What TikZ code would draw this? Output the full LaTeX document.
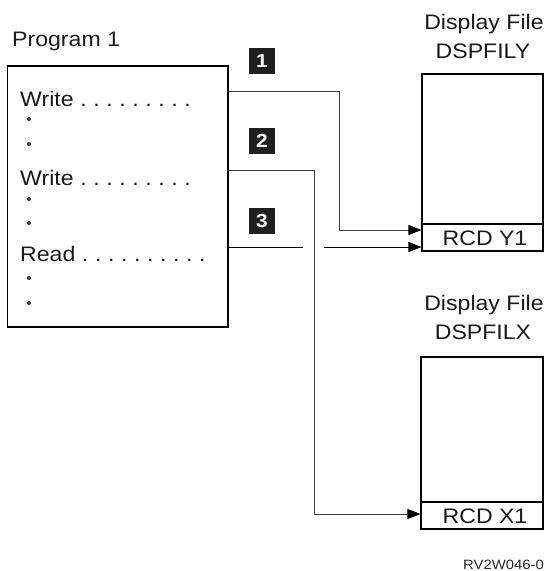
\documentclass[tikz,border=0pt]{standalone}
\usepackage{fontspec}
\setmainfont{Liberation Sans}[FakeStretch=1.1]
\usetikzlibrary{arrows.meta}
\newcommand\leadsp{\frenchspacing\spaceskip=6.6pt\relax\xspaceskip=6.6pt\relax}
\begin{document}
\begin{tikzpicture}[x=1pt,y=-1pt,
  txt/.style={inner sep=0pt,font=\fontsize{21}{24}\selectfont,text=black!90},
  small/.style={inner sep=0pt,font=\fontsize{13.5}{16}\selectfont,text=black!85},
  box/.style={draw=black,line width=1.1pt,inner sep=0pt},
  badge/.style={fill=black!88,text=white,inner sep=0pt,minimum size=26pt,font=\fontsize{19}{19}\selectfont\bfseries},
  conn/.style={draw=black!75,line width=0.9pt},
  arr/.style={conn,-{Triangle[length=13pt,width=10pt,color=black]}},
  bul/.style={circle,fill=black!75,inner sep=0pt,minimum size=4.2pt}]
\useasboundingbox (0,0) rectangle (549,571);
% program box
\node[box,minimum width=220.5pt,minimum height=261pt] (prog) at (117.75,196.5) {};
\node[txt,anchor=base west] (ptitle) at (12,46) {Program 1};
\node[txt,anchor=base west] (w1) at (20,106) {\leadsp Write . . . . . . . . .};
\node[bul] (b1) at (29,119) {};
\node[bul] (b2) at (29,144) {};
\node[txt,anchor=base west] (w2) at (20,185) {\leadsp Write . . . . . . . . .};
\node[bul] (b3) at (29,199) {};
\node[bul] (b4) at (29,223) {};
\node[txt,anchor=base west] (rd) at (20,261) {\leadsp Read . . . . . . . . . .};
\node[bul] (b5) at (29,278) {};
\node[bul] (b6) at (29,303) {};
% badges
\node[badge] (n1) at (262,61) {1};
\node[badge] (n2) at (262,141) {2};
\node[badge] (n3) at (262,221) {3};
% display file Y
\node[txt,anchor=base] (dfy) at (484,29) {Display File};
\node[txt,anchor=base] (dsy) at (483,58) {DSPFILY};
\node[box,minimum width=121pt,minimum height=177pt] (ybox) at (482.5,162.5) {};
\draw[line width=1.1pt] (ybox.west|-0,224) -- (ybox.east|-0,224);
\node[txt,anchor=base] (rcdy) at (485,245) {RCD Y1};
% display file X
\node[txt,anchor=base] (dfx) at (484,310) {Display File};
\node[txt,anchor=base] (dsx) at (483,339) {DSPFILX};
\node[box,minimum width=122pt,minimum height=172pt] (xbox) at (482,443) {};
\draw[line width=1.1pt] (xbox.west|-0,502) -- (xbox.east|-0,502);
\node[txt,anchor=base] (rcdx) at (485,523) {RCD X1};
\node[small,anchor=base east] (ref) at (544,569) {RV2W046-0};
% connectors
\coordinate (c1a) at (339,91);
\coordinate (c1b) at (339,230);
\draw[arr] (prog.east|-c1a) -- (c1a) -- (c1b) -- (ybox.west|-c1b);
\coordinate (c2a) at (314,170);
\coordinate (c2b) at (314,514);
\draw[arr] (prog.east|-c2a) -- (c2a) -- (c2b) -- (xbox.west|-c2b);
\coordinate (c3a) at (303,247);
\coordinate (c3b) at (324,247);
\draw[conn,draw=black] (prog.east|-c3a) -- (c3a);
\draw[arr,draw=black] (c3b) -- (ybox.west|-c3b);
\end{tikzpicture}
\end{document}
